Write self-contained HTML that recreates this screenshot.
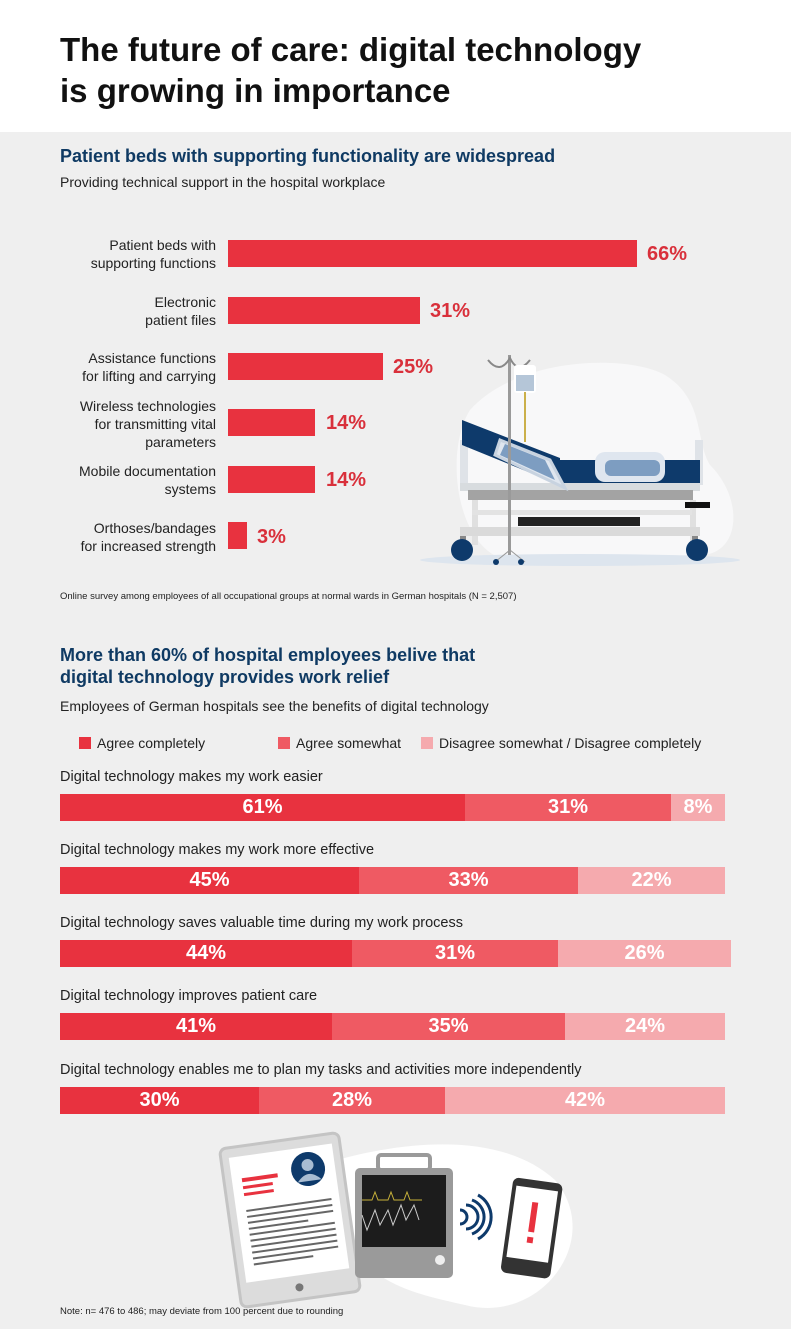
<!DOCTYPE html>
<html><head><meta charset="utf-8"><style>
*{margin:0;padding:0;box-sizing:border-box}
body{width:791px;height:1329px;background:#efefef;font-family:"Liberation Sans",sans-serif;position:relative;overflow:hidden;color:#222}
.a{position:absolute}
.hdr{left:0;top:0;width:791px;height:132px;background:#fff}
h1{position:absolute;left:60px;top:29px;font-size:33px;line-height:41px;font-weight:bold;color:#111}
.h2{font-size:18px;font-weight:bold;color:#0f3a63;line-height:22px}
.sub{font-size:14px;color:#222}
.lbl{width:216px;text-align:right;font-size:14px;line-height:18px;left:0}
.bar{background:#e8323f;height:27px}
.pct{font-size:20px;font-weight:bold;color:#d9303b}
.q{font-size:14.5px;left:60px}
.seg{position:absolute;height:27px;color:#fff;font-weight:bold;font-size:20px;text-align:center;line-height:27px}
.c1{background:#e8323f}.c2{background:#ef5a63}.c3{background:#f5aaae}
.sq{width:12px;height:12px;display:inline-block;margin-right:6px;vertical-align:-1px}
</style></head><body>
<div class="a hdr"></div>
<h1>The future of care: digital technology<br>is growing in importance</h1>

<div class="a h2" style="left:60px;top:145px">Patient beds with supporting functionality are widespread</div>
<div class="a sub" style="left:60px;top:174px">Providing technical support in the hospital workplace</div>

<div class="a lbl" style="top:236px">Patient beds with<br>supporting functions</div>
<div class="a bar" style="left:228px;top:240px;width:409px"></div><div class="a pct" style="left:647px;top:243px">66%</div>
<div class="a lbl" style="top:293px">Electronic<br>patient files</div>
<div class="a bar" style="left:228px;top:297px;width:192px"></div><div class="a pct" style="left:430px;top:300px">31%</div>
<div class="a lbl" style="top:349px">Assistance functions<br>for lifting and carrying</div>
<div class="a bar" style="left:228px;top:353px;width:155px"></div><div class="a pct" style="left:393px;top:356px">25%</div>
<div class="a lbl" style="top:397px">Wireless technologies<br>for transmitting vital<br>parameters</div>
<div class="a bar" style="left:228px;top:409px;width:87px"></div><div class="a pct" style="left:326px;top:412px">14%</div>
<div class="a lbl" style="top:462px">Mobile documentation<br>systems</div>
<div class="a bar" style="left:228px;top:466px;width:87px"></div><div class="a pct" style="left:326px;top:469px">14%</div>
<div class="a lbl" style="top:519px">Orthoses/bandages<br>for increased strength</div>
<div class="a bar" style="left:228px;top:522px;width:19px"></div><div class="a pct" style="left:257px;top:526px">3%</div>

<svg class="a" style="left:400px;top:340px" width="391" height="240" viewBox="0 0 391 240">
<path d="M70 70 C120 15 230 15 265 35 C305 60 295 100 310 125 C345 160 340 215 300 215 L100 218 C55 200 45 110 70 70Z" fill="#f8f8f9"/>
<ellipse cx="180" cy="220" rx="160" ry="6" fill="#dde5ee"/>
<rect x="60" y="100" width="8" height="45" fill="#dfe3e8"/>
<rect x="295" y="100" width="8" height="45" fill="#dfe3e8"/>
<polygon points="62,80 160,118 160,145 62,105" fill="#0e3a6b"/>
<rect x="160" y="120" width="140" height="23" fill="#0e3a6b"/>
<rect x="60" y="143" width="240" height="8" fill="#d8dcdf"/>
<rect x="68" y="150" width="225" height="10" fill="#a3a3a3"/>
<polygon points="100,100 150,120 165,148 95,115" fill="#dfe6ef" stroke="#c8d3e0" stroke-width="3"/>
<polygon points="105,104 145,120 155,140 100,115" fill="#7d9dc1"/>
<rect x="195" y="112" width="70" height="30" rx="10" fill="#dfe6ef"/>
<rect x="205" y="120" width="55" height="16" rx="6" fill="#7d9dc1"/>
<rect x="72" y="160" width="6" height="45" fill="#e0e0e0"/><rect x="290" y="160" width="6" height="45" fill="#e0e0e0"/>
<rect x="72" y="170" width="220" height="5" fill="#e3e3e3"/>
<rect x="118" y="177" width="122" height="9" fill="#222"/>
<rect x="60" y="187" width="240" height="9" fill="#dadada"/>
<rect x="285" y="162" width="25" height="6" fill="#111"/>
<rect x="60" y="196" width="6" height="14" fill="#888"/><rect x="292" y="196" width="6" height="14" fill="#888"/>
<circle cx="62" cy="210" r="11" fill="#0e3a6b"/><circle cx="297" cy="210" r="11" fill="#0e3a6b"/>
<rect x="108" y="15" width="3" height="200" fill="#9a9a9a"/>
<path d="M88 20 Q100 35 110 18 Q118 35 130 20" fill="none" stroke="#888" stroke-width="2"/>
<rect x="114" y="25" width="22" height="28" rx="3" fill="#fff"/><rect x="116" y="35" width="18" height="16" fill="#b5c6d8"/>
<rect x="124" y="52" width="2" height="50" fill="#cbb04a"/>
<path d="M95 222 L110 210 L125 222" stroke="#999" fill="none"/><circle cx="96" cy="222" r="3" fill="#0e3a6b"/><circle cx="121" cy="222" r="3" fill="#0e3a6b"/>
</svg>

<div class="a" style="left:60px;top:591px;font-size:9.5px">Online survey among employees of all occupational groups at normal wards in German hospitals (N = 2,507)</div>

<div class="a h2" style="left:60px;top:644px">More than 60% of hospital employees belive that<br>digital technology provides work relief</div>
<div class="a sub" style="left:60px;top:698px">Employees of German hospitals see the benefits of digital technology</div>
<div class="a sub" style="left:79px;top:735px"><span class="sq c1"></span>Agree completely</div>
<div class="a sub" style="left:278px;top:735px"><span class="sq c2"></span>Agree somewhat</div>
<div class="a sub" style="left:421px;top:735px"><span class="sq c3"></span>Disagree somewhat / Disagree completely</div>

<div class="a q" style="top:769px">Digital technology makes my work easier</div>
<div class="seg c1" style="left:60px;top:794px;width:405px">61%</div><div class="seg c2" style="left:465px;top:794px;width:206px">31%</div><div class="seg c3" style="left:671px;top:794px;width:54px">8%</div>
<div class="a q" style="top:842px">Digital technology makes my work more effective</div>
<div class="seg c1" style="left:60px;top:867px;width:299px">45%</div><div class="seg c2" style="left:359px;top:867px;width:219px">33%</div><div class="seg c3" style="left:578px;top:867px;width:147px">22%</div>
<div class="a q" style="top:915px">Digital technology saves valuable time during my work process</div>
<div class="seg c1" style="left:60px;top:940px;width:292px">44%</div><div class="seg c2" style="left:352px;top:940px;width:206px">31%</div><div class="seg c3" style="left:558px;top:940px;width:173px">26%</div>
<div class="a q" style="top:988px">Digital technology improves patient care</div>
<div class="seg c1" style="left:60px;top:1013px;width:272px">41%</div><div class="seg c2" style="left:332px;top:1013px;width:233px">35%</div><div class="seg c3" style="left:565px;top:1013px;width:160px">24%</div>
<div class="a q" style="top:1062px">Digital technology enables me to plan my tasks and activities more independently</div>
<div class="seg c1" style="left:60px;top:1087px;width:199px">30%</div><div class="seg c2" style="left:259px;top:1087px;width:186px">28%</div><div class="seg c3" style="left:445px;top:1087px;width:280px">42%</div>

<svg class="a" style="left:200px;top:1120px" width="400" height="200" viewBox="0 0 400 200">
<path d="M120 45 C200 20 300 10 355 60 C405 120 340 205 265 185 C200 170 140 160 120 45Z" fill="#fff"/>
<g transform="rotate(-8 90 100)"><rect x="30" y="20" width="120" height="160" rx="6" fill="#dcdcdc" stroke="#c4c4c4" stroke-width="3"/><rect x="38" y="30" width="104" height="126" fill="#fff"/>
<rect x="48" y="52" width="36" height="4" fill="#e8323f"/><rect x="48" y="60" width="30" height="3" fill="#e8323f"/><rect x="48" y="67" width="30" height="3" fill="#e8323f"/>
<circle cx="115" cy="52" r="17" fill="#0e3a6b"/><circle cx="115" cy="48" r="6" fill="#a9bdd2"/><path d="M103 64 Q115 50 127 64Z" fill="#a9bdd2"/>
<g fill="#666"><rect x="48" y="84" width="86" height="2"/><rect x="48" y="90" width="86" height="2"/><rect x="48" y="96" width="86" height="2"/><rect x="48" y="102" width="60" height="2"/><rect x="48" y="108" width="86" height="2"/><rect x="48" y="114" width="86" height="2"/><rect x="48" y="120" width="86" height="2"/><rect x="48" y="126" width="86" height="2"/><rect x="48" y="132" width="86" height="2"/><rect x="48" y="138" width="60" height="2"/></g>
<circle cx="90" cy="168" r="4" fill="#777"/></g>
<rect x="155" y="48" width="98" height="110" rx="5" fill="#9a9a9a"/><rect x="178" y="35" width="52" height="15" rx="3" fill="none" stroke="#9a9a9a" stroke-width="4"/>
<rect x="162" y="55" width="84" height="72" fill="#1c1c1c"/>
<path d="M162 80 l10 0 l3 -8 l3 8 l10 0 l3 -8 l3 8 l10 0 l3 -8 l3 8 l12 0" stroke="#c8b23a" fill="none"/>
<path d="M162 95 l5 15 l8 -20 l5 15 l8 -15 l5 15 l8 -20 l5 15 l8 -15 l5 15" stroke="#ccc" fill="none"/>
<circle cx="240" cy="140" r="5" fill="#eee"/>
<g stroke="#0e3a6b" stroke-width="3" fill="none"><path d="M260 90 a6 6 0 0 1 0 14"/><path d="M266 85 a12 12 0 0 1 0 24"/><path d="M272 80 a18 18 0 0 1 0 34"/><path d="M278 75 a25 25 0 0 1 0 44"/></g>
<g transform="rotate(8 330 120)"><rect x="305" y="60" width="50" height="96" rx="6" fill="#333"/><rect x="309" y="68" width="42" height="72" fill="#fff"/><rect x="327" y="82" width="6" height="30" fill="#e8323f"/><rect x="327" y="117" width="6" height="6" fill="#e8323f"/></g>
</svg>
<div class="a" style="left:60px;top:1306px;font-size:9.5px">Note: n= 476 to 486; may deviate from 100 percent due to rounding</div>
</body></html>
